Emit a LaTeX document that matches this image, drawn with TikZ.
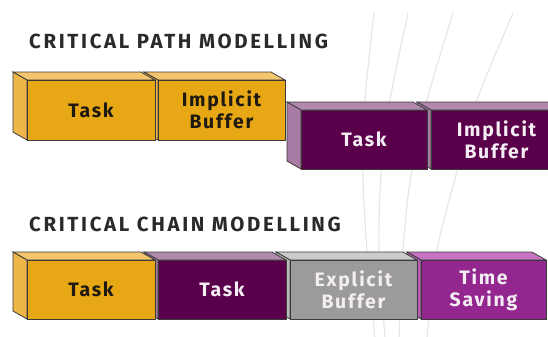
\documentclass[tikz,border=0pt]{standalone}
\usepackage{fontspec}
\setmainfont{Fira Sans}
\newfontfamily\headfont{Fira Sans}[LetterSpace=13]
\newfontfamily\trackedfont{Fira Sans}[LetterSpace=9]

% block palettes: front / top / side
\definecolor{ambFront}{HTML}{E8A816}
\definecolor{ambTop}{HTML}{F4C56C}
\definecolor{ambSide}{HTML}{EEB648}
\definecolor{plmFront}{HTML}{5A004A}
\definecolor{plmTop}{HTML}{B189AE}
\definecolor{plmSide}{HTML}{A77BA3}
\definecolor{gryFront}{HTML}{9B9B9B}
\definecolor{gryTop}{HTML}{CBCBCB}
\definecolor{grySide}{HTML}{BDBDBD}
\definecolor{mgtFront}{HTML}{93278F}
\definecolor{mgtTop}{HTML}{C673C2}
\definecolor{mgtSide}{HTML}{B860B4}
\definecolor{edge}{HTML}{3A3A3A}
\definecolor{heading}{HTML}{2A2A2A}
\definecolor{darktext}{HTML}{1E1A10}
\definecolor{lighttext}{HTML}{F4EEF4}
\definecolor{streak}{HTML}{E6E6E6}

\tikzset{
  facet/.style={draw=edge, line width=0.8bp, line join=miter},
  heading/.style={font={\headfont\bfseries\fontsize{20.5}{22}\selectfont}, text=heading, inner sep=0pt},
  blocklabel/.style={font={\trackedfont\bfseries\fontsize{19.5}{22.5}\selectfont}, align=center, inner sep=0pt},
  streakline/.style={draw=streak, line width=1.2bp},
}

% \drawblock{name}{x1}{y1}{x2}{y2}{palette}{text colour}{label}
% a slab seen from front-right: front face plus top and left side receding by (-14,-8)
\newcommand\drawblock[8]{%
  \fill[#6Top, facet] (#2,#3) -- ({#2-14},{#3-8}) -- ({#4-14},{#3-8}) -- (#4,#3) -- cycle;
  \fill[#6Side, facet] (#2,#3) -- ({#2-14},{#3-8}) -- ({#2-14},{#5-8}) -- (#2,#5) -- cycle;
  \fill[#6Front, facet] (#2,#3) rectangle (#4,#5);
  \node[blocklabel, text=#7] (#1) at ({(#2+#4)/2},{(#3+#5)/2}) {#8};
}

\begin{document}
\begin{tikzpicture}[x=1bp, y=-1bp]
\useasboundingbox (0,0) rectangle (548,336);
\begin{scope}
\clip (0,0) rectangle (548,336);

% faint background streaks
\draw[streakline] plot[smooth] coordinates {(374,13) (365,100) (363,175) (367,250) (375,338)};
\draw[streakline] plot[smooth] coordinates {(408,13) (390,100) (381,175) (379,250) (385,338)};
\draw[streakline] plot[smooth] coordinates {(453,13) (427,100) (411,175) (403,250) (399,338)};
\draw[streakline] plot[smooth] coordinates {(513,13) (477,100) (456,175) (437,250) (427,338)};

% headings
\node[heading, anchor=base west] (pathhead) at (29,48) {CRITICAL PATH MODELLING};
\node[heading, anchor=base west] (chainhead) at (29,231) {CRITICAL CHAIN MODELLING};

% critical path row (drawn right to left so nearer faces overlap)
\drawblock{pathbufB}{431}{110}{562}{169}{plm}{lighttext}{Implicit\\Buffer}
\drawblock{pathtaskB}{301}{110}{427}{169}{plm}{lighttext}{Task}
\drawblock{pathbufA}{158}{80}{285}{140}{amb}{darktext}{Implicit\\Buffer}
\drawblock{pathtaskA}{27}{80}{155}{140}{amb}{darktext}{Task}

% critical chain row
\drawblock{chainsave}{421}{260}{546}{319}{mgt}{lighttext}{Time\\Saving}
\drawblock{chainbuf}{290}{260}{417}{319}{gry}{lighttext}{Explicit\\Buffer}
\drawblock{chaintaskB}{158}{260}{286}{319}{plm}{lighttext}{Task}
\drawblock{chaintaskA}{27}{260}{155}{319}{amb}{darktext}{Task}
\end{scope}
\end{tikzpicture}
\end{document}
